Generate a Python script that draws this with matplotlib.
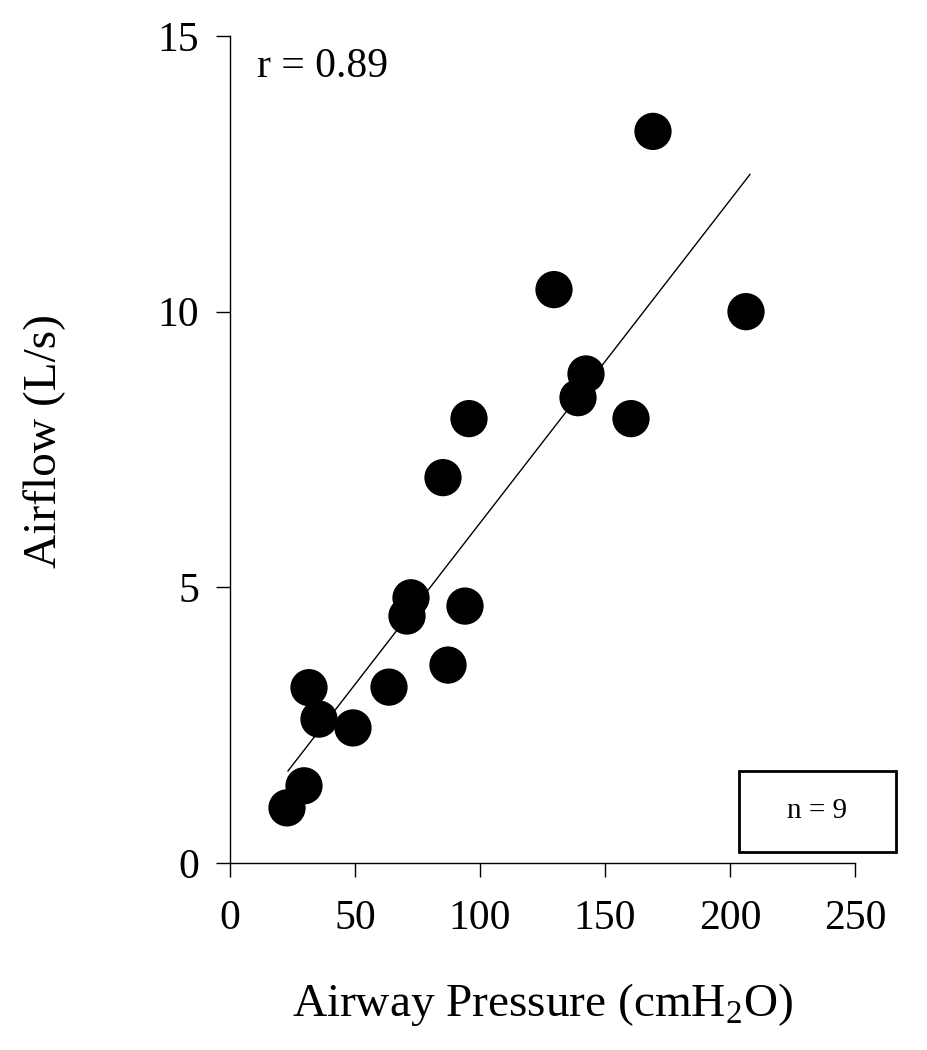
import matplotlib
matplotlib.use("Agg")
import matplotlib.pyplot as plt
from matplotlib.patches import Rectangle

plt.rcParams['font.family'] = ['Liberation Serif', 'DejaVu Serif']
plt.rcParams['mathtext.fontset'] = 'custom'
plt.rcParams['mathtext.rm'] = 'Liberation Serif'

pressure = [22.8, 29.6, 31.6, 35.6, 49.2, 63.6, 70.8, 72.4, 87.2, 85.2, 94.0, 95.6,
            129.6, 139.2, 142.4, 160.4, 169.2, 206.4]
airflow = [1.00, 1.40, 3.18, 2.61, 2.45, 3.19, 4.48, 4.81, 3.59, 6.99, 4.66, 8.06,
           10.40, 8.44, 8.87, 8.06, 13.27, 10.00]
fit_x = [23.2, 208.0]
fit_y = [1.67, 12.49]
x_ticks = [0, 50, 100, 150, 200, 250]
y_ticks = [0, 5, 10, 15]
r_text = "r = 0.89"
n_text = "n = 9"

fig = plt.figure(figsize=(9.27, 10.5), dpi=100)
ax = fig.add_axes([230/927, 1 - 863/1050, (855-230)/927, (863-36)/1050])

ax.plot(fit_x, fit_y, color='black', lw=1.0, zorder=2)
ax.scatter(pressure, airflow, s=720, color='black', edgecolors='none', zorder=3)

ax.set_xlim(0, 250)
ax.set_ylim(0, 15)
ax.set_xticks(x_ticks)
ax.set_yticks(y_ticks)
for s in ['top', 'right']:
    ax.spines[s].set_visible(False)
for s in ['left', 'bottom']:
    ax.spines[s].set_linewidth(1.0)
ax.tick_params(axis='both', direction='out', length=10, width=1.0, labelsize=30)
ax.tick_params(axis='x', pad=16)
ax.tick_params(axis='y', pad=12)

ax.set_xlabel(r"Airway Pressure (cmH$_2$O)", fontsize=34, labelpad=31)
ax.set_ylabel("Airflow (L/s)", fontsize=34)
ax.yaxis.set_label_coords(-0.262, 0.51)

ax.text(10.8, 14.26, r_text, fontsize=30, ha='left', va='baseline')

rect = Rectangle((739/927, 1 - 852/1050), (896-739)/927, (852-771)/1050,
                 transform=fig.transFigure, fill=False, lw=2.0, edgecolor='black')
fig.patches.append(rect)
fig.text(817/927, 1 - 811/1050, n_text, fontsize=21, ha='center', va='center')

fig.savefig("out.png", dpi=100)
